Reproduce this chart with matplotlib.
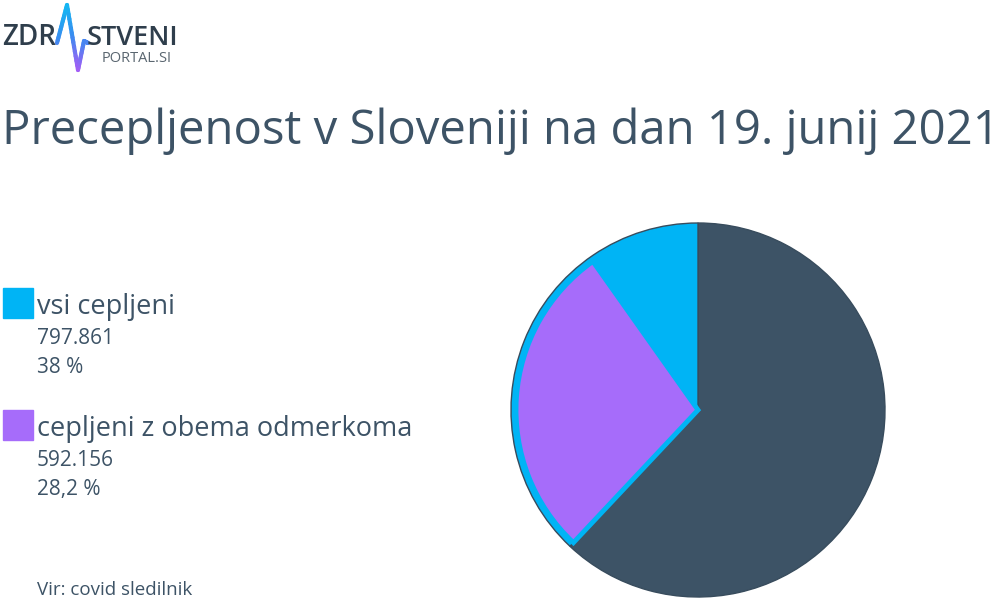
import numpy as np
import matplotlib.pyplot as plt
from matplotlib.collections import LineCollection
from matplotlib.colors import LinearSegmentedColormap

# data
vsi_cepljeni = 797861
oba_odmerka = 592156
delez_vsi = 38.0
delez_oba = 28.2
delez_ostali = 100 - delez_vsi

naslov = "Precepljenost v Sloveniji na dan 19. junij 2021"
oznake = ["vsi cepljeni", "cepljeni z obema odmerkoma"]
stevilke = ["797.861", "592.156"]
odstotki = ["38 %", "28,2 %"]
vir = "Vir: covid sledilnik"

temna = "#3d5366"
modra = "#00b4f5"
vijola = "#a66cfa"

plt.rcParams['font.family'] = ['Open Sans', 'DejaVu Sans']

W, H = 1000, 603
fig = plt.figure(figsize=(10, 6.03), dpi=100)
fig.patch.set_facecolor("white")

def fx(x):
    return x / W

def fy(y):
    return 1 - y / H

# logo
lax = fig.add_axes([0, 0, 1, 1])
lax.set_xlim(0, W)
lax.set_ylim(H, 0)
lax.axis("off")
pts = np.array([[57, 43], [67, 5], [78, 70], [84, 41], [88, 43]])
seg_pts = []
for i in range(len(pts) - 1):
    for s in np.linspace(0, 1, 15):
        seg_pts.append(pts[i] + (pts[i + 1] - pts[i]) * s)
seg_pts = np.array(seg_pts)
segs = np.stack([seg_pts[:-1], seg_pts[1:]], axis=1)
cmap = LinearSegmentedColormap.from_list("logo", ["#12b8f2", "#3a8cf0", "#a65cf6"])
lc = LineCollection(segs, cmap=cmap, linewidths=3, capstyle="round", joinstyle="round")
lc.set_array((segs[:, 0, 1] + segs[:, 1, 1]) / 2)
lc.set_clim(5, 70)
lax.add_collection(lc)
fig.text(fx(2), fy(45), "ZDR", fontsize=20, color="#2f3e4c", va="baseline", ha="left", fontweight="semibold")
fig.text(fx(87), fy(45), "STVENI", fontsize=19.5, color="#2f3e4c", va="baseline", ha="left", fontweight="semibold")
fig.text(fx(102), fy(62), "PORTAL.SI", fontsize=10.5, color="#5a6670", va="baseline", ha="left")

# title
fig.text(fx(2), fy(144), naslov, fontsize=34, color=temna, va="baseline", ha="left")

# legend
barve = [modra, vijola]
kvadrat = [288, 410]
osnova = [314, 436]
for i in range(2):
    lax.add_patch(plt.Rectangle((3, kvadrat[i]), 30, 30, color=barve[i]))
    fig.text(fx(37), fy(osnova[i]), oznake[i], fontsize=19.5, color=temna, va="baseline", ha="left")
    fig.text(fx(37), fy(osnova[i] + 30), stevilke[i], fontsize=15, color=temna, va="baseline", ha="left")
    fig.text(fx(37), fy(osnova[i] + 59), odstotki[i], fontsize=15, color=temna, va="baseline", ha="left")

fig.text(fx(37), fy(595), vir, fontsize=13.5, color=temna, va="baseline", ha="left")

# pie
cx, cy, r = 698, 410, 187
box = 195
ax = fig.add_axes([fx(cx - box), fy(cy + box), 2 * box / W, 2 * box / H])
ax.pie([delez_ostali, delez_vsi], colors=[temna, modra], startangle=90, counterclock=False,
       radius=r / box, wedgeprops=dict(edgecolor="#384c5d", linewidth=1))
w2, _ = ax.pie([delez_ostali, delez_oba, delez_vsi - delez_oba], colors=["none", vijola, "none"],
               startangle=90, counterclock=False, radius=(r - 5) / box,
               wedgeprops=dict(linewidth=0))
w2[1].set_edgecolor(modra)
w2[1].set_linewidth(3.5)
w2[1].set_joinstyle("miter")
ax.set_xlim(-1, 1)
ax.set_ylim(-1, 1)
ax.set_aspect("equal")

fig.savefig("out.png", dpi=100, facecolor="white")
